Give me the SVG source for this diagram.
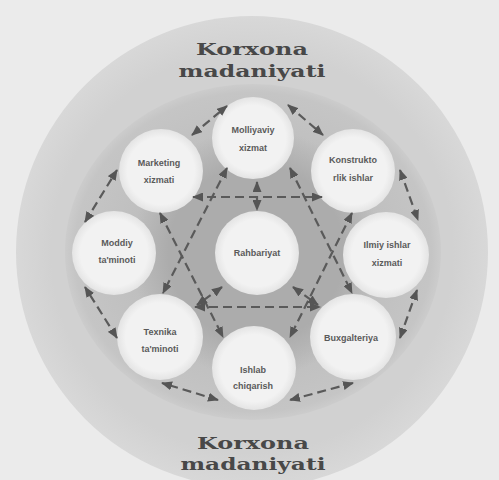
<svg xmlns="http://www.w3.org/2000/svg" width="499" height="480" viewBox="0 0 499 480">
<defs>
<radialGradient id="gOuter" cx="0.5" cy="0.5" r="0.5">
<stop offset="0.85" stop-color="#d1d1d1"/>
<stop offset="1" stop-color="#d8d8d8"/>
</radialGradient>
<radialGradient id="gRing" cx="0.5" cy="0.5" r="0.5">
<stop offset="0.6" stop-color="#bebebe"/>
<stop offset="0.95" stop-color="#c5c5c5"/>
<stop offset="1" stop-color="#cccccc"/>
</radialGradient>
<radialGradient id="gCenter" cx="0.5" cy="0.5" r="0.5">
<stop offset="0.7" stop-color="#acacac"/>
<stop offset="1" stop-color="#acacac" stop-opacity="0"/>
</radialGradient>
<radialGradient id="gNode" cx="0.5" cy="0.5" r="0.5">
<stop offset="0.8" stop-color="#f2f2f2"/>
<stop offset="1" stop-color="#e4e4e4"/>
</radialGradient>
<marker id="ah" viewBox="0 0 11 9" refX="10" refY="4.5" markerWidth="11" markerHeight="9" markerUnits="userSpaceOnUse" orient="auto-start-reverse">
<path d="M0,0 L11,4.5 L0,9 Z" fill="#555"/>
</marker>
<style>
.node circle{fill:url(#gNode);}
.lbl{font-family:"Liberation Sans",Arial,sans-serif;font-size:9px;font-weight:bold;fill:#5a5a5a;text-anchor:middle;}
.title{font-family:"DejaVu Serif","Liberation Serif",serif;font-size:17px;font-weight:bold;fill:#484848;text-anchor:middle;}
.c{fill:none;stroke:#5a5a5a;stroke-width:2.2;stroke-dasharray:9 5;marker-start:url(#ah);marker-end:url(#ah);}
</style>
</defs>
<rect width="499" height="480" fill="#ebebeb"/>
<circle cx="252" cy="252" r="236" fill="url(#gOuter)"/>
<ellipse cx="253" cy="252" rx="188" ry="168" fill="url(#gRing)"/>
<circle cx="256" cy="253" r="125" fill="url(#gCenter)"/>

<g id="title-top">
<text class="title" x="252" y="55" textLength="112" lengthAdjust="spacingAndGlyphs">Korxona</text>
<text class="title" x="252" y="77" textLength="147" lengthAdjust="spacingAndGlyphs">madaniyati</text>
</g>
<g id="title-bottom">
<text class="title" x="253" y="449" textLength="112" lengthAdjust="spacingAndGlyphs">Korxona</text>
<text class="title" x="253" y="470" textLength="145" lengthAdjust="spacingAndGlyphs">madaniyati</text>
</g>

<g id="node-molliyaviy" class="node"><circle cx="253" cy="138" r="41"/><text class="lbl" x="253" y="133">Molliyaviy</text><text class="lbl" x="253" y="151">xizmat</text></g>
<g id="node-marketing" class="node"><circle cx="161" cy="171" r="42"/><text class="lbl" x="159" y="166">Marketing</text><text class="lbl" x="159" y="183">xizmati</text></g>
<g id="node-konstruktorlik" class="node"><circle cx="353" cy="171" r="42"/><text class="lbl" x="353" y="163">Konstrukto</text><text class="lbl" x="353" y="181">rlik ishlar</text></g>
<g id="node-moddiy" class="node"><circle cx="114" cy="253" r="42"/><text class="lbl" x="117" y="246">Moddiy</text><text class="lbl" x="117" y="263">ta'minoti</text></g>
<g id="node-rahbariyat" class="node"><circle cx="257" cy="253" r="42"/><text class="lbl" x="257" y="256">Rahbariyat</text></g>
<g id="node-ilmiy" class="node"><circle cx="386" cy="255" r="43"/><text class="lbl" x="387" y="248">Ilmiy ishlar</text><text class="lbl" x="387" y="266">xizmati</text></g>
<g id="node-texnika" class="node"><circle cx="160" cy="337" r="43"/><text class="lbl" x="160" y="335">Texnika</text><text class="lbl" x="160" y="352">ta'minoti</text></g>
<g id="node-buxgalteriya" class="node"><circle cx="353" cy="337" r="43"/><text class="lbl" x="351" y="341">Buxgalteriya</text></g>
<g id="node-ishlab" class="node"><circle cx="254" cy="368" r="42"/><text class="lbl" x="253" y="373">Ishlab</text><text class="lbl" x="253" y="389">chiqarish</text></g>

<g id="connectors">
<path class="c" d="M192,135 L227,106"/>
<path class="c" d="M288,105 L323,135"/>
<path class="c" d="M400,170 L418,220"/>
<path class="c" d="M417,290 L400,338"/>
<path class="c" d="M353,383 L290,400"/>
<path class="c" d="M218,400 L162,383"/>
<path class="c" d="M117,338 L85,287"/>
<path class="c" d="M85,222 L117,170"/>
<path class="c" d="M227,168 L163,293"/>
<path class="c" d="M290,168 L352,293"/>
<path class="c" d="M160,213 L223,337"/>
<path class="c" d="M352,213 L290,337"/>
<path class="c" d="M193,197 L322,197"/>
<path class="c" d="M257,182 L257,210"/>
<path class="c" d="M195,307 L320,307"/>
<path class="c" d="M222,287 L197,305"/>
<path class="c" d="M293,287 L318,305"/>
</g>
</svg>
